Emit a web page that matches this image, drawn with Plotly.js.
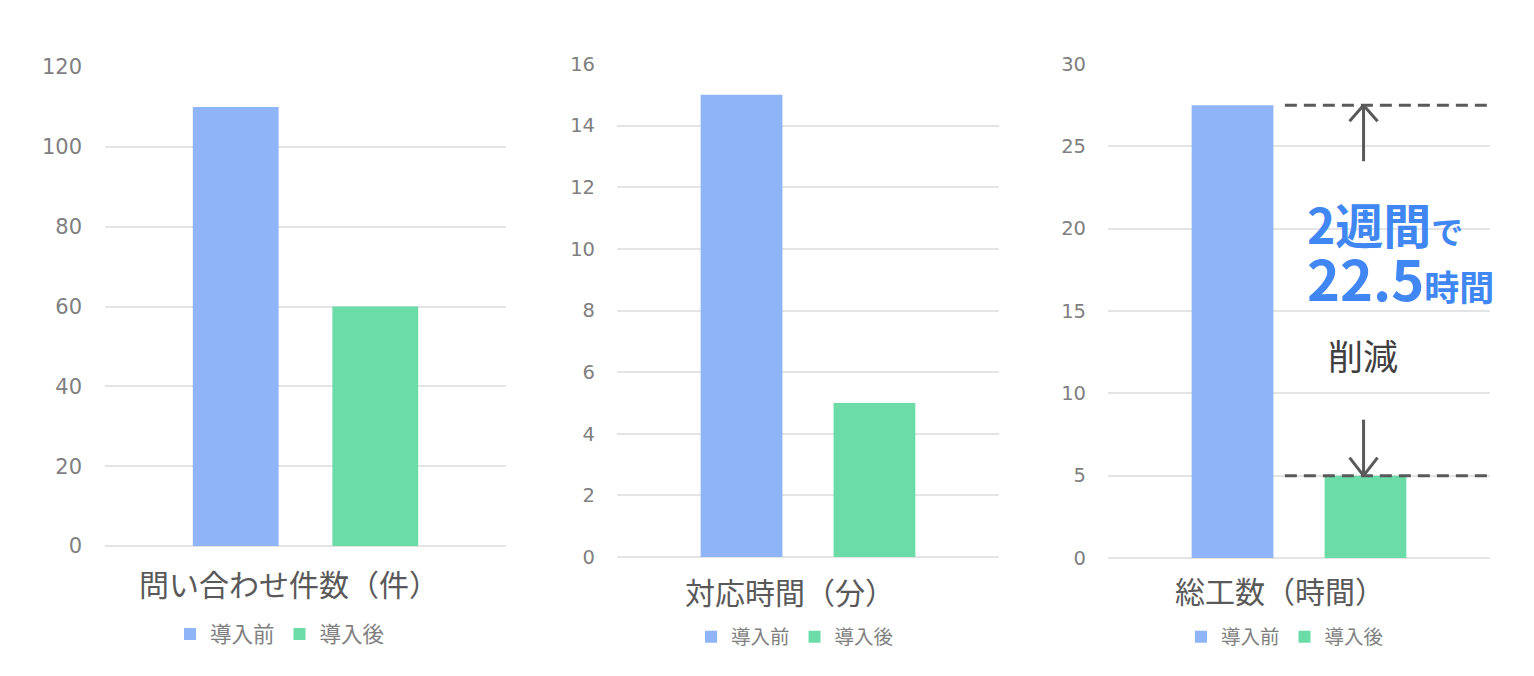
<!DOCTYPE html>
<html>
<head>
<meta charset="utf-8">
<script src="https://cdn.plot.ly/plotly-3.0.1.min.js"></script>
<style>
  html, body { margin: 0; padding: 0; background: #fff; }
  #chart { width: 1534px; height: 676px; }
</style>
</head>
<body>
<div id="chart"></div>
<script>
'use strict'

// data
const categories = ['問い合わせ件数（件）', '対応時間（分）', '総工数（時間）'];
const seriesNames = ['導入前', '導入後'];
const beforeVals = [110, 15, 27.5];
const afterVals = [60, 5, 5];
const yMax = [120, 16, 30];
const yStep = [20, 2, 5];
const noteLines = ['2週間', 'で', '22.5', '時間', '削減'];

const FONT = '"Noto Sans CJK JP", "Noto Sans", sans-serif';
const NUMFONT = '"DejaVu Sans", "Noto Sans CJK JP", sans-serif';
const blue = '#8fb4f8',
    green = '#6bdca8',
    grid = '#e4e4e4';

// plot areas, in px of the 1534x676 picture
const boxes = [
    {x0: 105, x1: 506, top: 67, bot: 546, tick: 21, stand: 22, leg: 21.5, legX: 170, legY: 634, titleX: 137, titleY: 583},
    {x0: 617, x1: 999, top: 64, bot: 557, tick: 19.5, stand: 21, leg: 19.5, legX: 691, legY: 637, titleX: 683, titleY: 591},
    {x0: 1108, x1: 1490, top: 64, bot: 558, tick: 19.5, stand: 21, leg: 19.5, legX: 1181, legY: 637, titleX: 1173, titleY: 590}
];
const W = 1534, H = 676;

let data = [];
let layout = {
    width: W,
    height: H,
    margin: {l: 0, r: 0, t: 0, b: 0},
    paper_bgcolor: '#fff',
    plot_bgcolor: '#fff',
    font: {family: FONT, color: '#7f7f7f'},
    barmode: 'group',
    bargap: 0.304,
    bargroupgap: 0.385,
    annotations: [],
    shapes: []
};

for (let i = 0; i < 3; i++) {
    const b = boxes[i];
    const n = i === 0 ? '' : String(i + 1);
    const legName = 'legend' + n;

    data.push({
        type: 'bar', x: [categories[i]], y: [beforeVals[i]], name: seriesNames[0],
        marker: {color: blue}, xaxis: 'x' + n, yaxis: 'y' + n, legend: legName,
        hoverinfo: 'y'
    });
    data.push({
        type: 'bar', x: [categories[i]], y: [afterVals[i]], name: seriesNames[1],
        marker: {color: green}, xaxis: 'x' + n, yaxis: 'y' + n, legend: legName,
        hoverinfo: 'y'
    });

    layout['xaxis' + n] = {
        domain: [b.x0 / W, b.x1 / W],
        anchor: 'y' + n,
        type: 'category',
        showticklabels: false,
        showgrid: false,
        zeroline: false,
        showline: false,
        fixedrange: true
    };
    layout['yaxis' + n] = {
        domain: [1 - b.bot / H, 1 - b.top / H],
        anchor: 'x' + n,
        range: [0, yMax[i]],
        dtick: yStep[i],
        tick0: 0,
        showgrid: true,
        gridcolor: grid,
        gridwidth: 1.5,
        zeroline: true,
        zerolinecolor: grid,
        zerolinewidth: 1.5,
        showline: false,
        ticks: '',
        ticklabelstandoff: b.stand,
        tickfont: {size: b.tick, color: '#7f7f7f', family: NUMFONT},
        fixedrange: true
    };
    layout[legName] = {
        orientation: 'h',
        x: b.legX / W,
        xanchor: 'left',
        y: 1 - b.legY / H,
        yanchor: 'middle',
        font: {size: b.leg, color: '#7f7f7f', family: FONT},
        bgcolor: 'rgba(0,0,0,0)',
        itemclick: false
    };
    // category name sits under the bars like an axis title
    layout.annotations.push({
        xref: 'paper', yref: 'paper',
        x: b.titleX / W, y: 1 - b.titleY / H,
        xanchor: 'left', yanchor: 'middle',
        text: categories[i],
        showarrow: false,
        font: {size: 30, color: '#595959', family: FONT}
    });
}

// callout on the third chart
const noteBlue = '#4087f3';
layout.annotations.push({
    xref: 'paper', yref: 'paper',
    x: 1305 / W, y: 1 - 252 / H, xanchor: 'left', yanchor: 'middle',
    align: 'left',
    text: '<b><span style="font-size:48px">' + noteLines[0] + '</span>' +
        '<span style="font-size:32px">' + noteLines[1] + '</span><br>' +
        '<span style="font-size:56px">' + noteLines[2] + '</span>' +
        '<span style="font-size:35px">' + noteLines[3] + '</span></b>',
    showarrow: false,
    font: {size: 44, color: noteBlue, family: FONT}
});
layout.annotations.push({
    xref: 'paper', yref: 'paper',
    x: 1363 / W, y: 1 - 354 / H, xanchor: 'center', yanchor: 'middle',
    text: noteLines[4],
    showarrow: false,
    font: {size: 35, color: '#404040', family: FONT}
});

// dashed guides at before / after levels
const dash = {color: '#595959', width: 3, dash: '12px,7px'};
[beforeVals[2], afterVals[2]].forEach(function(v) {
    layout.shapes.push({
        type: 'line', xref: 'x3 domain', yref: 'y3',
        x0: 0.463, x1: 0.995, y0: v, y1: v, line: dash
    });
});

// arrows (open heads) drawn in pixels from the guide levels
const arrowLine = {color: '#595959', width: 3};
const ax = 0.669;
function seg(anchorY, x0, y0, x1, y1) {
    layout.shapes.push({
        type: 'line', xref: 'x3 domain', yref: 'y3',
        xsizemode: 'pixel', xanchor: ax,
        ysizemode: 'pixel', yanchor: anchorY,
        x0: x0, y0: y0, x1: x1, y1: y1, line: arrowLine
    });
}
// up arrow ending at the before level
seg(beforeVals[2], 0, 0, 0, -56);
seg(beforeVals[2], -14, -16, 0, 0);
seg(beforeVals[2], 14, -16, 0, 0);
// down arrow ending at the after level
seg(afterVals[2], 0, 0, 0, 56);
seg(afterVals[2], -14, 18, 0, 0);
seg(afterVals[2], 14, 18, 0, 0);

Plotly.newPlot('chart', data, layout, {displayModeBar: false});
</script>
</body>
</html>
